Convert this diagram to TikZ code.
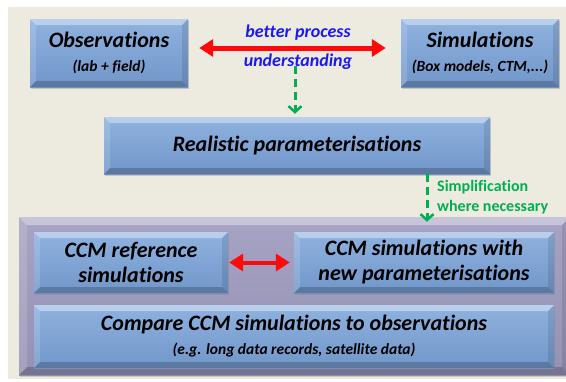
\documentclass[tikz,border=0pt]{standalone}
\usepackage{fontspec}
\setmainfont{Carlito}[Ligatures=NoCommon]
\usepackage{tikz}
\usetikzlibrary{arrows.meta,positioning,calc,shadows}
\usepackage{xcolor}

\definecolor{paper}{HTML}{EDEAE0}
\definecolor{facetop}{HTML}{8FB2DF}
\definecolor{facebot}{HTML}{7196C9}
\definecolor{lilactop}{HTML}{A7A3C4}
\definecolor{lilacbot}{HTML}{9591B3}
\definecolor{arrowred}{HTML}{FF0A0A}
\definecolor{hintgreen}{HTML}{00B050}
\definecolor{hintblue}{HTML}{1A1AF0}

\newcommand{\subline}[1]{{\fontsize{15.5}{18}\selectfont #1}}

% bevelled panel: light top/left edge, dark bottom/right edge
\tikzset{
  bevel/.style={path picture={
    \fill[white,opacity=.38] (path picture bounding box.north west) -- (path picture bounding box.north east)
      -- ([shift={(-#1,-#1)}]path picture bounding box.north east) -- ([shift={(#1,-#1)}]path picture bounding box.north west) -- cycle;
    \fill[white,opacity=.15] (path picture bounding box.north west) -- ([shift={(#1,-#1)}]path picture bounding box.north west)
      -- ([shift={(#1,#1)}]path picture bounding box.south west) -- (path picture bounding box.south west) -- cycle;
    \fill[black,opacity=.10] (path picture bounding box.north east) -- ([shift={(-#1,-#1)}]path picture bounding box.north east)
      -- ([shift={(-#1,#1)}]path picture bounding box.south east) -- (path picture bounding box.south east) -- cycle;
    \fill[black,opacity=.20] (path picture bounding box.south west) -- ([shift={(#1,#1)}]path picture bounding box.south west)
      -- ([shift={(-#1,#1)}]path picture bounding box.south east) -- (path picture bounding box.south east) -- cycle;
  }},
  panel/.style={top color=facetop,bottom color=facebot,bevel=6pt,align=center,inner sep=0pt,
    font=\fontsize{22}{25}\selectfont\bfseries\itshape,
    drop shadow={shadow xshift=1.2pt,shadow yshift=-1.5pt,opacity=.35}},
  bigarrow/.style={arrowred,line width=5pt,{Triangle[length=14pt,width=17pt]}-{Triangle[length=14pt,width=17pt]}},
  hint/.style={hintgreen,line width=3pt,dash pattern=on 8pt off 5pt,-{Straight Barb[length=6pt,width=13pt,line width=2.5pt]}},
}

\begin{document}
\begin{tikzpicture}[x=1pt,y=-1pt]
\useasboundingbox (0,0) rectangle (566,381);
\fill[paper] (8,7) rectangle (566,379);

% top row
\node[panel,minimum width=158pt,minimum height=68pt] (obs) at (109,53)
  {Observations\\[-1pt]\subline{(lab + field)}};
\node[panel,minimum width=158pt,minimum height=68pt] (sim) at (480,53)
  {Simulations\\[-1pt]\subline{(Box models, CTM,...)}};
\node[hintblue,align=center,font=\fontsize{18}{29}\selectfont\bfseries\itshape,inner sep=1pt] (link) at (298,47)
  {better process\\understanding};
\draw[bigarrow,shorten <=11pt,shorten >=15pt] ([yshift=5pt]obs.east) -- ([yshift=5pt]sim.west);

\node[panel,minimum width=386pt,minimum height=57pt] (real) at (297,145.5) {Realistic parameterisations};
\draw[hint,shorten <=-5pt,shorten >=3pt] (link.south -| 295,0) -- (real.north -| 295,0);

% model frame
\node[draw=none,top color=lilactop,bottom color=lilacbot,bevel=8pt,minimum width=551pt,minimum height=158pt,
  drop shadow={shadow xshift=1.2pt,shadow yshift=-1.5pt,opacity=.3}] (ccm) at (294.5,296) {};
\node[panel,minimum width=194pt,minimum height=61pt] (ref) at (131,262.5) {CCM reference\\simulations};
\node[panel,minimum width=260pt,minimum height=61pt] (new) at (424,262.5) {CCM simulations with\\new parameterisations};
\node[panel,minimum width=520pt,minimum height=63pt] (cmp) at (294,336.5)
  {Compare CCM simulations to observations\\[-1pt]\subline{(e.g. long data records, satellite data)}};
\draw[bigarrow,line width=4pt,shorten <=1pt,shorten >=4pt] (ref.east) -- (new.west);

\draw[hint,shorten >=-5pt] (real.south -| 427,0) -- (ccm.north -| 427,0);
\node[hintgreen,anchor=west,align=left,font=\fontsize{16}{20}\selectfont\bfseries,inner sep=0pt] (simp) at (437,197)
  {Simplification\\where necessary};
\end{tikzpicture}
\end{document}
